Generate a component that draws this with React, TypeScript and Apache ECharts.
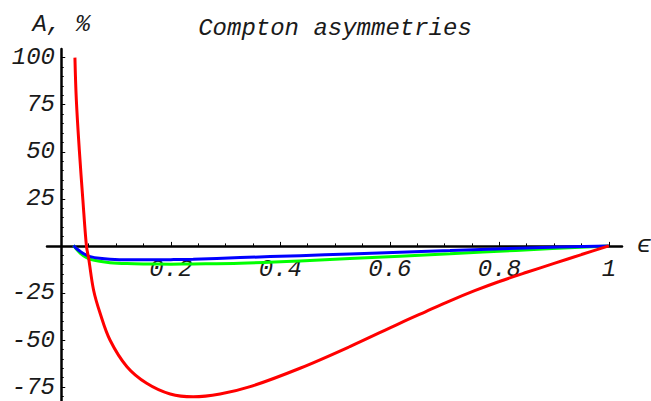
import React, { useEffect, useRef } from "react";
import * as echarts from "echarts";

const redSeries: [number, number][] = [
  [0.025, 100], [0.0275, 78], [0.033, 51], [0.0395, 24.5], [0.046, 0],
  [0.05, -6.5], [0.059, -23.4], [0.071, -35.8], [0.089, -50], [0.12, -64.2],
  [0.156, -73], [0.199, -78.7], [0.241, -80.2], [0.29, -78.7], [0.345, -74.8],
  [0.436, -65], [0.527, -53.5], [0.619, -41], [0.665, -35], [0.71, -29.2],
  [0.755, -23.8], [0.8, -18.9], [0.85, -14], [0.9, -9.3], [0.95, -4.6], [1, 0],
];
const greenSeries: [number, number][] = [
  [0.0225, 0.3], [0.028, -1.8], [0.035, -3.9], [0.045, -6], [0.053, -7.1],
  [0.07, -8.2], [0.089, -8.9], [0.12, -9.4], [0.15, -9.6], [0.2, -9.7],
  [0.241, -9.6], [0.327, -9.2], [0.436, -8], [0.527, -6.7], [0.71, -4.2],
  [0.83, -2.4], [1, 0],
];
const blueSeries: [number, number][] = [
  [0.0225, 0.3], [0.028, -1.5], [0.035, -3], [0.045, -4.8], [0.053, -5.7],
  [0.07, -6.6], [0.089, -7.1], [0.12, -7.4], [0.15, -7.4], [0.2, -7.3],
  [0.241, -7.1], [0.327, -6.2], [0.436, -5.2], [0.527, -4.3], [0.71, -2.5],
  [0.85, -1.1], [1, 0],
];
const xMajorTicks = [0.2, 0.4, 0.6, 0.8, 1];
const xMinorTicks = [0.05, 0.1, 0.15, 0.25, 0.3, 0.35, 0.45, 0.5, 0.55, 0.65, 0.7, 0.75, 0.85, 0.9, 0.95];
const yMajorTicks = [-75, -50, -25, 25, 50, 75, 100];
const yMinorTicks = [
  -80, -70, -65, -60, -55, -45, -40, -35, -30, -20, -15, -10, -5,
  5, 10, 15, 20, 30, 35, 40, 45, 55, 60, 65, 70, 80, 85, 90, 95,
];
const titleText = "Compton asymmetries";
const yName = "A, %";
const xName = "\u03f5";

const FONT = "'Liberation Mono', 'DejaVu Sans Mono', monospace";
const TEXT_COLOR = "#1a1a1a";
const FONT_SIZE = 24;
const textBase = { fontFamily: FONT, fontStyle: "italic" as const, fontSize: FONT_SIZE, color: TEXT_COLOR };

export default function App() {
  const ref = useRef<HTMLDivElement>(null);
  useEffect(() => {
    if (!ref.current) return;
    const chart = echarts.init(ref.current, undefined, { renderer: "svg" });
    const xMin = -0.026, xMax = 1.024, yMin = -82.4, yMax = 104.6;
    const axisLineStyle = { color: "#000", width: 2.5 };
    const hiddenLine = { show: true, onZero: true, onZeroAxisIndex: 0, lineStyle: { color: "#000", width: 0, opacity: 0 } };
    const noAxis = {
      axisLine: { show: false },
      axisTick: { show: false },
      axisLabel: { show: false },
      splitLine: { show: false },
    };
    chart.setOption({
      animation: false,
      backgroundColor: "#fff",
      grid: [
        // main plotting grid
        { left: 47, right: 29, top: 49, bottom: 0, containLabel: false, outerBoundsMode: "none" },
        // grid whose bottom edge sits on the zero line (x tick labels)
        { left: 47, right: 29, top: 49, bottom: 155, containLabel: false, outerBoundsMode: "none" },
        // grid whose left edge sits on the x = 0 line (y tick labels)
        { left: 61, right: 29, top: 49, bottom: 0, containLabel: false, outerBoundsMode: "none" },
      ],
      graphic: [
        {
          type: "text",
          x: 335,
          y: 28.5,
          style: {
            text: titleText,
            textAlign: "center",
            textVerticalAlign: "middle",
            font: `italic ${FONT_SIZE}px ${FONT}`,
            fill: TEXT_COLOR,
          },
        },
      ],
      xAxis: [
        {
          type: "value", gridIndex: 0, min: xMin, max: xMax, position: "bottom",
          axisLine: { show: true, onZero: true, onZeroAxisIndex: 0, lineStyle: axisLineStyle },
          axisTick: { show: true, inside: true, length: 4, customValues: xMajorTicks, lineStyle: { color: "#000", width: 1 } },
          axisLabel: { show: false },
          splitLine: { show: false },
          name: xName,
          nameLocation: "end",
          nameGap: 15,
          nameTextStyle: { ...textBase, align: "left", verticalAlign: "middle" },
        },
        {
          type: "value", gridIndex: 0, min: xMin, max: xMax, position: "bottom",
          axisLine: hiddenLine,
          axisTick: { show: true, inside: true, length: 2.5, customValues: xMinorTicks, lineStyle: { color: "#000", width: 1 } },
          axisLabel: { show: false },
          splitLine: { show: false },
        },
        {
          type: "value", gridIndex: 1, min: xMin, max: xMax, position: "bottom",
          axisLine: { show: false, onZero: false },
          axisTick: { show: false },
          axisLabel: { show: true, customValues: xMajorTicks, margin: 11, formatter: (v: number) => String(v), ...textBase },
          splitLine: { show: false },
        },
        { type: "value", gridIndex: 2, min: 0, max: 1, ...noAxis },
      ],
      yAxis: [
        {
          type: "value", gridIndex: 0, min: yMin, max: yMax, position: "left",
          axisLine: { show: true, onZero: true, onZeroAxisIndex: 0, lineStyle: axisLineStyle },
          axisTick: { show: true, inside: true, length: 4, customValues: yMajorTicks, lineStyle: { color: "#000", width: 1 } },
          axisLabel: { show: false },
          splitLine: { show: false },
          name: yName,
          nameLocation: "end",
          nameGap: 25,
          nameTextStyle: { ...textBase, align: "center", verticalAlign: "middle" },
        },
        {
          type: "value", gridIndex: 0, min: yMin, max: yMax, position: "left",
          axisLine: hiddenLine,
          axisTick: { show: true, inside: true, length: 2.5, customValues: yMinorTicks, lineStyle: { color: "#000", width: 1 } },
          axisLabel: { show: false },
          splitLine: { show: false },
        },
        { type: "value", gridIndex: 1, min: 0, max: 1, ...noAxis },
        {
          type: "value", gridIndex: 2, min: yMin, max: yMax, position: "left",
          axisLine: { show: false, onZero: false },
          axisTick: { show: false },
          axisLabel: { show: true, customValues: yMajorTicks, margin: 6, formatter: (v: number) => String(v), ...textBase },
          splitLine: { show: false },
        },
      ],
      series: [
        {
          type: "line", data: greenSeries, xAxisIndex: 0, yAxisIndex: 0,
          showSymbol: false, smooth: 0.35,
          lineStyle: { color: "#00ff00", width: 3 }, z: 3,
        },
        {
          type: "line", data: blueSeries, xAxisIndex: 0, yAxisIndex: 0,
          showSymbol: false, smooth: 0.35,
          lineStyle: { color: "#0000ff", width: 3 }, z: 4,
        },
        {
          type: "line", data: redSeries, xAxisIndex: 0, yAxisIndex: 0,
          showSymbol: false, smooth: 0.35,
          lineStyle: { color: "#ff0000", width: 3 }, z: 5,
        },
      ],
    });
    return () => chart.dispose();
  }, []);
  return (
    <div
      ref={ref}
      style={{ position: "fixed", left: 0, top: 0, width: 651, height: 401, background: "#fff" }}
    />
  );
}
